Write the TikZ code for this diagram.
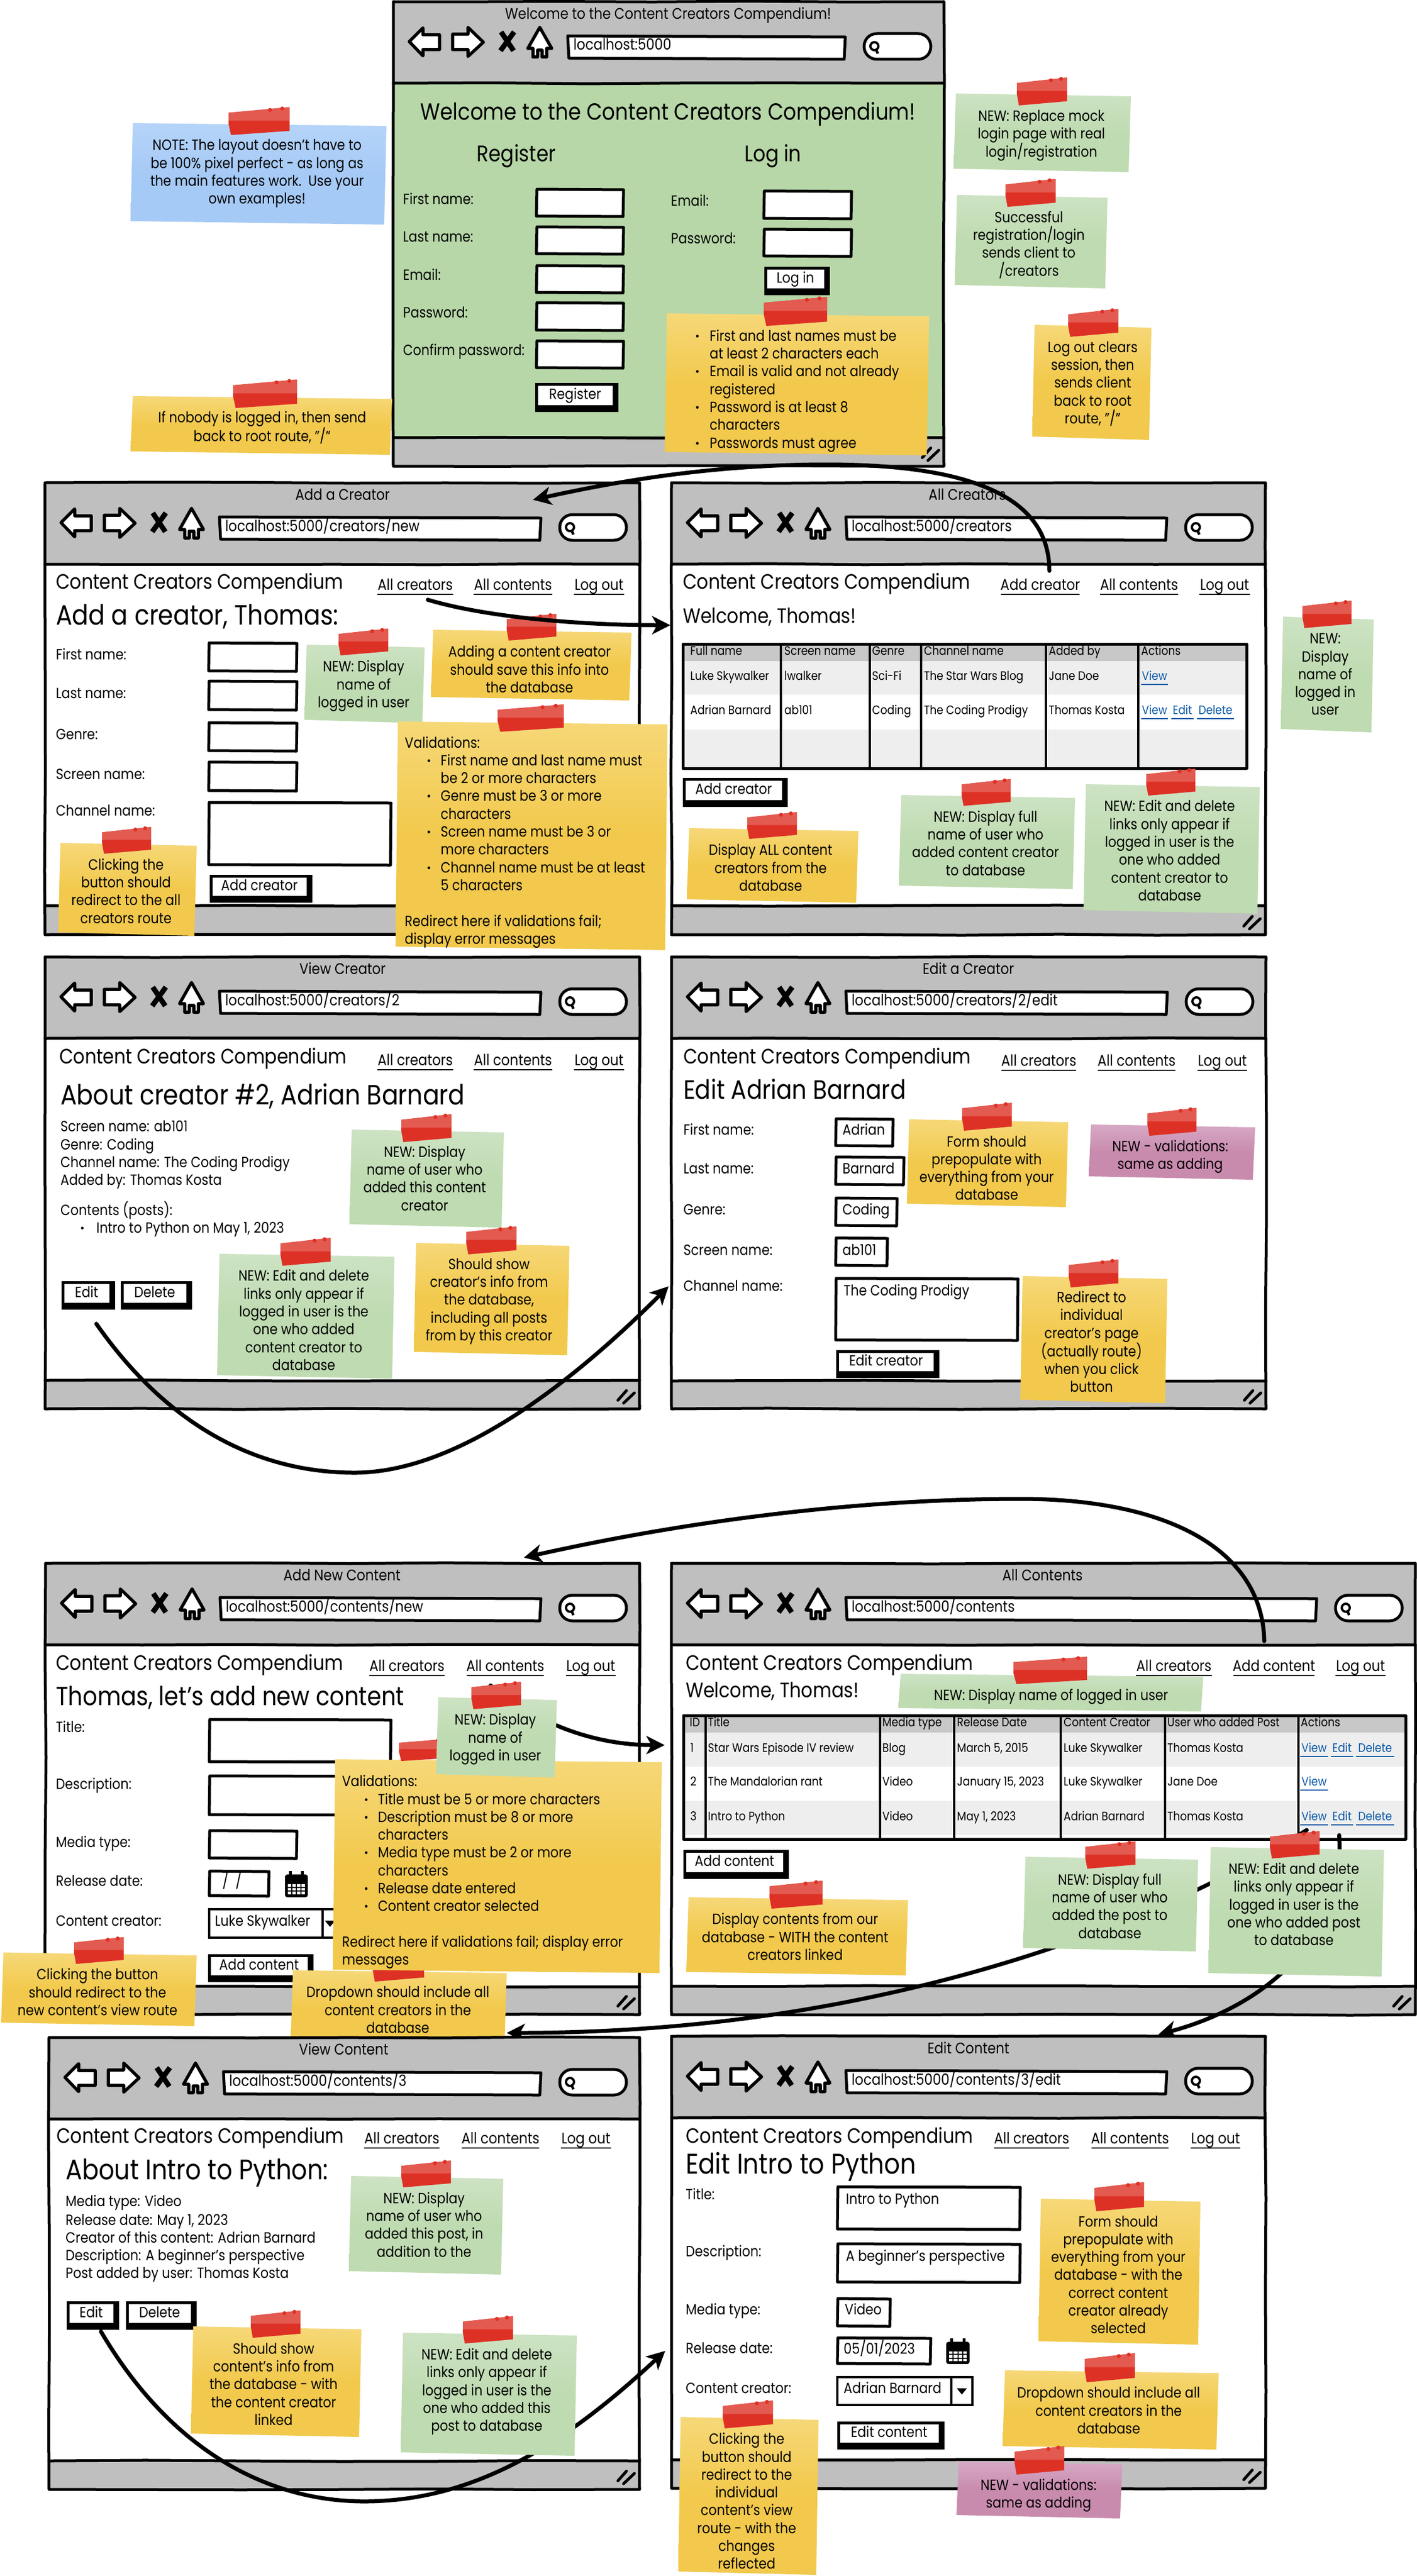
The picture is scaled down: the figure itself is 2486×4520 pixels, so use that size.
\documentclass[tikz,border=0pt]{standalone}
\usepackage{fontspec}
\setmainfont[FakeStretch=0.87]{Poppins}
\usetikzlibrary{arrows.meta,decorations.pathmorphing}
\definecolor{barcol}{HTML}{BFBFBF}
\definecolor{landgreen}{HTML}{B7D7A8}
\definecolor{hdrgray}{HTML}{C8C8C8}
\definecolor{rowgray}{HTML}{EEEEEE}
\definecolor{linkblue}{HTML}{0B5AA8}
\definecolor{yelT}{HTML}{F6D878}\definecolor{yelB}{HTML}{F2C94C}
\definecolor{grnT}{HTML}{CDE3C4}\definecolor{grnB}{HTML}{BFDBB1}
\definecolor{bluT}{HTML}{B5D4F9}\definecolor{bluB}{HTML}{A6CAF6}
\definecolor{pnkT}{HTML}{D6A9C6}\definecolor{pnkB}{HTML}{C98BAD}
\definecolor{tapeT}{HTML}{E35A50}\definecolor{tapeB}{HTML}{DE3126}
\newcommand\fz[1]{\fontsize{#1}{\dimexpr #1pt*6/5\relax}\selectfont}
\newcommand\nf{\fontsize{26}{31.3}\selectfont}
\newcount\lc
\def\bodycol{white}
\tikzset{
  rough/.style={decorate,decoration={random steps,segment length=170pt,amplitude=1.1pt}},
  frame/.style={draw=black,line width=5pt,line join=round,line cap=round},
  flow/.style={draw=black,line width=7pt,line cap=round,-{Stealth[length=32pt,width=32pt,inset=9pt]}},
  icon/.style={draw=black,fill=white,line width=5.5pt,line join=round},
  lbl/.style={inner sep=0pt,font=\fz{26},execute at begin node=\strut},
  ntxt/.style={inner sep=0pt,font=\nf,execute at begin node=\strut,execute at end node=\strut},
  yelnote/.style={top color=yelT,bottom color=yelB,middle color=yelB},
  grnnote/.style={top color=grnT,bottom color=grnB,middle color=grnB},
  blunote/.style={top color=bluT,bottom color=bluB,middle color=bluB},
  pnknote/.style={top color=pnkT,bottom color=pnkB,middle color=pnkB}
}
\newcommand\lab[4][26]{\global\advance\lc by1 \node[lbl,font=\fz{#1},anchor=west] (lab\the\lc) at (#2,#3) {#4};}
\newcommand\lnk[5]{\node[lbl,font=\fz{27}] (#1) at ({(#2+#3)/2},#4) {#5};
  \draw[line width=2.5pt] (#2,#4+14) -- (#3,#4+14);}
\newcommand\tlk[5]{\node[lbl,font=\fz{21.5},text=linkblue] (#1) at ({(#2+#3)/2},#4) {#5};
  \draw[line width=2.2pt,linkblue] (#2,#4+13) -- (#3,#4+13);}
\newcommand\fld[4]{\draw[frame,fill=white] ({#1+1},#2) -- ({#3},{#2+1}) -- ({#3-1},#4) -- (#1,{#4-1}) -- cycle;}
\newcommand\btn[6]{\fill[black] (#2,#3) rectangle (#4,#5);
  \fill[white] ({#2+5},{#3+5}) rectangle ({#4-10},{#5-12});
  \node[lbl] (#1) at ({(#2+#4)/2-3},{(#3+#5)/2-3}) {#6};}
\newcommand\drop[5]{\draw[line width=4.5pt,fill=white] (#1,#2) rectangle (#3,#4);
  \draw[line width=4.5pt] (#5,#2) -- (#5,#4);
  \fill[black] ({(#5+#3)/2-9},{(#2+#4)/2-5}) -- ({(#5+#3)/2+9},{(#2+#4)/2-5}) -- ({(#5+#3)/2},{(#2+#4)/2+6}) -- cycle;}
\newcommand\calicon[4]{\fill[black,rounded corners=4pt] (#1,{#2+6}) rectangle (#3,#4);
  \fill[black] ({#1+7},#2) rectangle ({#1+12},{#2+10}); \fill[black] ({#3-12},#2) rectangle ({#3-7},{#2+10});
  \foreach \cx in {0,1,2,3}{\foreach \cy in {0,1,2}{
    \fill[white] ({#1+4+\cx*(#3-#1-8)/4+1},{#2+22+\cy*(#4-#2-26)/3+1}) rectangle ++({(#3-#1-8)/4-2},{(#4-#2-26)/3-2});}}}
% browser window: id x0 y0 x1 y1 status titlecx title url
\newcommand\brow[9]{%
  \pgfmathsetmacro\bw{#4-#2}\pgfmathsetmacro\bh{#5-#3}%
  \fill[barcol] (#2,#3) rectangle (#4,#5);
  \fill[\bodycol] (#2,{#3+143}) rectangle (#4,#6);
  \draw[frame,rough] (#2,#3) rectangle (#4,#5);
  \draw[frame,rough] (#2,{#3+143}) -- (#4,{#3+143});
  \draw[frame,rough] (#2,#6) -- (#4,#6);
  \node[lbl,font=\fz{27}] (#1title) at (#7,{#3+24}) {#8};
  \begin{scope}[shift={(#2,#3)}]
    \draw[icon] (28,70) -- (52,46) -- (52,58) -- (81,58) -- (81,84) -- (52,84) -- (52,95) -- cycle;
    \draw[icon] (104,57) -- (131,57) -- (131,45) -- (158,71) -- (131,96) -- (131,84) -- (104,84) -- cycle;
    \draw[line width=9pt] (189,53) -- (211,86) (212,53) -- (188,86);
    \draw[icon] (257,45) -- (278,82) -- (269,82) -- (269,97) -- (261,97) -- (261,85) -- (253,85) -- (253,97) -- (245,97) -- (245,82) -- (236,82) -- cycle;
    \draw[frame,fill=white] (306,60) -- ({\bw-173},62) -- ({\bw-175},101) -- (308,99) -- cycle;
    \node[lbl,font=\fz{27},anchor=west] (#1url) at (316,78) {#9};
    \draw[frame,fill=white,rounded corners=22pt] ({\bw-140},56) rectangle ({\bw-23},101);
    \draw[line width=4pt] ({\bw-122},78) circle (7);
    \draw[line width=4.5pt] ({\bw-119},84) -- ({\bw-116},91);
    \draw[line width=5pt,line cap=round] ({\bw-38},{\bh-15}) -- ({\bw-23},{\bh-32}) ({\bw-28},{\bh-10}) -- ({\bw-9},{\bh-28});
  \end{scope}
}
\def\parsebox#1,#2,#3,#4;{\def\xa{#1}\def\ya{#2}\def\xb{#3}\def\yb{#4}}
\def\parsetape#1,#2,#3,#4;{\def\ta{#1}\def\tb{#2}\def\tc{#3}\def\td{#4}}
\def\parsecen#1,#2;{\def\ca{#1}\def\cb{#2}}
% sticky: name colour box tape centre text
\newcommand\stick[6]{%
  \parsebox#3;\parsetape#4;\parsecen#5;%
  \shade[#2note] ({\xa+4},\ya) -- (\xb,{\ya+5}) -- ({\xb-4},\yb) -- (\xa,{\yb-6}) -- cycle;
  \fill[tapeB] (\ta,{\tb+0.2*(\td-\tb)}) -- (\tc,\tb) -- (\tc,{\tb+0.85*(\td-\tb)}) -- ({\ta+0.04*(\tc-\ta)},\td) -- (\ta,{\tb+0.6*(\td-\tb)}) -- cycle;
  \fill[tapeT] (\ta,{\tb+0.2*(\td-\tb)}) -- (\tc,\tb) -- (\tc,{\tb+0.48*(\td-\tb)}) -- (\ta,{\tb+0.48*(\td-\tb)}) -- cycle;
  \fill[tapeB] ({\ta+0.68*(\tc-\ta)},{\tb+0.1*(\td-\tb)}) circle (3.5) ({\ta+0.88*(\tc-\ta)},{\tb+0.05*(\td-\tb)}) circle (3.5);
  \node[ntxt,align=center] (#1) at (\ca,\cb) {#6};
}
\newcommand\blt{\makebox[63pt][l]{\kern39pt\textbf{·}}}
\newcommand\cnt{\makebox[63pt]{}}
\newcommand\bltb{\makebox[25pt][l]{\textbf{·}}}
\newcommand\cntb{\makebox[25pt]{}}
\begin{document}
\begin{tikzpicture}[x=1pt,y=-1pt]
\pgfmathsetseed{11}
\useasboundingbox (0,0) rectangle (2486,4520);
\fill[white] (0,0) rectangle (2486,4520);
% ---------- A landing
{\def\bodycol{landgreen}
\brow{a}{690}{3}{1656}{818}{768}{1172}{Welcome to the Content Creators Compendium!}{localhost:5000}}
\node[lbl,font=\fz{41}] (aHead) at (1172,201) {Welcome to the Content Creators Compendium!};
\node[lbl,font=\fz{39.5}] (aReg) at (906,274) {Register};
\node[lbl,font=\fz{39.5}] (aLog) at (1356,274) {Log in};
\lab{707}{352}{First name:}\lab{707}{418}{Last name:}\lab{707}{485}{Email:}\lab{707}{551}{Password:}\lab{707}{617}{Confirm password:}
\fld{941}{332}{1094}{380}\fld{941}{398}{1094}{446}\fld{941}{466}{1094}{514}\fld{941}{531}{1094}{580}\fld{941}{598}{1094}{646}
\btn{aBtnReg}{939}{672}{1085}{723}{Register}
\lab{1177}{355}{Email:}\lab{1177}{421}{Password:}
\fld{1340}{335}{1494}{384}\fld{1340}{402}{1494}{450}
\btn{aBtnLog}{1341}{468}{1456}{518}{Log in}
% ---------- B add creator
\brow{b}{79}{847}{1122}{1640}{1589}{601}{Add a Creator}{localhost:5000/creators/new}
\node[lbl,font=\fz{36.5},anchor=west] (bBrand) at (98,1025) {Content Creators Compendium};
\lnk{bAllCreators}{662}{795}{1029}{All creators}\lnk{bAllContents}{831}{969}{1029}{All contents}\lnk{bLogout}{1007}{1095}{1029}{Log out}
\node[lbl,font=\fz{49},anchor=west] (bHead) at (98,1085) {Add a creator, Thomas:};
\lab{98}{1151}{First name:}\lab{98}{1219}{Last name:}\lab{98}{1291}{Genre:}\lab{98}{1361}{Screen name:}\lab{98}{1425}{Channel name:}
\fld{366}{1128}{521}{1178}\fld{366}{1195}{521}{1246}\fld{366}{1268}{521}{1318}\fld{366}{1337}{521}{1388}\fld{366}{1408}{686}{1518}
\btn{bBtn}{368}{1535}{548}{1584}{Add creator}
% ---------- C all creators
\brow{c}{1178}{847}{2220}{1640}{1589}{1697}{All Creators}{localhost:5000/creators}
\node[lbl,font=\fz{36.5},anchor=west] (cBrand) at (1198,1025) {Content Creators Compendium};
\lnk{cAddCreator}{1756}{1894}{1029}{Add creator}\lnk{cAllContents}{1930}{2067}{1029}{All contents}\lnk{cLogout}{2104}{2193}{1029}{Log out}
\node[lbl,font=\fz{36.5},anchor=west] (cWelcome) at (1198,1085) {Welcome, Thomas!};
\fill[white] (1198,1130) rectangle (2187,1348);
\fill[hdrgray] (1198,1130) rectangle (2187,1160);
\fill[rowgray] (1198,1160) rectangle (2187,1219);
\fill[rowgray] (1198,1280) rectangle (2187,1345);
\draw[frame] (1198,1130) rectangle (2187,1348);
\foreach \xc in {1370,1526,1616,1835,1997}{\draw[line width=4pt] (\xc,1130) -- (\xc,1350);}
\lab[21.5]{1211}{1144}{Full name}\lab[21.5]{1376}{1144}{Screen name}\lab[21.5]{1530}{1144}{Genre}\lab[21.5]{1621}{1144}{Channel name}\lab[21.5]{1840}{1144}{Added by}\lab[21.5]{2002}{1144}{Actions}
\lab[21.5]{1211}{1188}{Luke Skywalker}\lab[21.5]{1376}{1188}{lwalker}\lab[21.5]{1530}{1188}{Sci-Fi}\lab[21.5]{1621}{1188}{The Star Wars Blog}\lab[21.5]{1840}{1188}{Jane Doe}
\tlk{cView1}{2002}{2049}{1188}{View}
\lab[21.5]{1211}{1248}{Adrian Barnard}\lab[21.5]{1376}{1248}{ab101}\lab[21.5]{1530}{1248}{Coding}\lab[21.5]{1621}{1248}{The Coding Prodigy}\lab[21.5]{1840}{1248}{Thomas Kosta}
\tlk{cView2}{2002}{2049}{1248}{View}\tlk{cEdit2}{2055}{2094}{1248}{Edit}\tlk{cDelete2}{2100}{2165}{1248}{Delete}
\btn{cBtn}{1198}{1365}{1382}{1416}{Add creator}
% ---------- D view creator
\brow{d}{79}{1679}{1122}{2472}{2422}{601}{View Creator}{localhost:5000/creators/2}
\node[lbl,font=\fz{36.5},anchor=west] (dBrand) at (104,1858) {Content Creators Compendium};
\lnk{dAllCreators}{662}{795}{1863}{All creators}\lnk{dAllContents}{831}{969}{1863}{All contents}\lnk{dLogout}{1007}{1095}{1863}{Log out}
\node[lbl,font=\fz{49},anchor=west] (dHead) at (106,1927) {About creator \#2, Adrian Barnard};
\lab{106}{1979}{Screen name: ab101}\lab{106}{2011}{Genre: Coding}\lab{106}{2042}{Channel name: The Coding Prodigy}\lab{106}{2073}{Added by: Thomas Kosta}
\lab{106}{2125}{Contents (posts):}\lab{141}{2157}{\textbf{·}}\lab{169}{2157}{Intro to Python on May 1, 2023}
\btn{dEdit}{108}{2248}{202}{2298}{Edit}\btn{dDelete}{212}{2248}{337}{2298}{Delete}
% ---------- E edit creator
\brow{e}{1178}{1679}{2221}{2472}{2423}{1699}{Edit a Creator}{localhost:5000/creators/2/edit}
\node[lbl,font=\fz{36.5},anchor=west] (eBrand) at (1199,1858) {Content Creators Compendium};
\lnk{eAllCreators}{1757}{1888}{1864}{All creators}\lnk{eAllContents}{1926}{2062}{1864}{All contents}\lnk{eLogout}{2101}{2188}{1864}{Log out}
\node[lbl,font=\fz{46.5},anchor=west] (eHead) at (1199,1917) {Edit Adrian Barnard};
\lab{1199}{1985}{First name:}\lab{1199}{2053}{Last name:}\lab{1199}{2125}{Genre:}\lab{1199}{2196}{Screen name:}\lab{1199}{2259}{Channel name:}
\fld{1466}{1963}{1567}{2011}\fld{1466}{2030}{1586}{2079}\fld{1466}{2102}{1574}{2151}\fld{1466}{2172}{1557}{2221}\fld{1466}{2243}{1786}{2352}
\lab{1478}{1985}{Adrian}\lab{1478}{2053}{Barnard}\lab{1478}{2125}{Coding}\lab{1478}{2196}{ab101}\lab{1480}{2267}{The Coding Prodigy}
\btn{eBtn}{1467}{2369}{1648}{2418}{Edit creator}
% ---------- F add content
\brow{f}{80}{2743}{1122}{3535}{3486}{600}{Add New Content}{localhost:5000/contents/new}
\node[lbl,font=\fz{36.5},anchor=west] (fBrand) at (98,2922) {Content Creators Compendium};
\lnk{fAllCreators}{648}{780}{2926}{All creators}\lnk{fAllContents}{819}{954}{2926}{All contents}\lnk{fLogout}{993}{1080}{2926}{Log out}
\node[lbl,font=\fz{46},anchor=west] (fHead) at (98,2981) {Thomas, let's add new content};
\lab{98}{3033}{Title:}\lab{98}{3133}{Description:}\lab{98}{3235}{Media type:}\lab{98}{3303}{Release date:}\lab{98}{3373}{Content creator:}
\fld{367}{3017}{686}{3092}\fld{367}{3116}{686}{3185}\fld{367}{3212}{521}{3261}\fld{367}{3283}{472}{3327}
\lab{390}{3303}{/\ \ /}
\calicon{500}{3283}{540}{3329}
\drop{367}{3350}{592}{3400}{566}
\lab{377}{3373}{Luke Skywalker}
\btn{fBtn}{365}{3429}{550}{3478}{Add content}
% ---------- G all contents
\brow{g}{1178}{2743}{2483}{3535}{3485}{1829}{All Contents}{localhost:5000/contents}
\node[lbl,font=\fz{36.5},anchor=west] (gBrand) at (1203,2922) {Content Creators Compendium};
\lnk{gAllCreators}{1993}{2126}{2926}{All creators}\lnk{gAddContent}{2164}{2306}{2926}{Add content}\lnk{gLogout}{2343}{2431}{2926}{Log out}
\node[lbl,font=\fz{36.5},anchor=west] (gWelcome) at (1203,2970) {Welcome, Thomas!};
\fill[white] (1199,3010) rectangle (2466,3227);
\fill[hdrgray] (1199,3010) rectangle (2466,3040);
\fill[rowgray] (1199,3040) rectangle (2466,3100);
\fill[rowgray] (1199,3160) rectangle (2466,3220);
\draw[frame] (1199,3010) rectangle (2466,3227);
\foreach \xc in {1238,1544,1674,1861,2044,2278}{\draw[line width=4pt] (\xc,3010) -- (\xc,3229);}
\lab[21.5]{1210}{3024}{ID}\lab[21.5]{1242}{3024}{Title}\lab[21.5]{1548}{3024}{Media type}\lab[21.5]{1679}{3024}{Release Date}\lab[21.5]{1866}{3024}{Content Creator}\lab[21.5]{2048}{3024}{User who added Post}\lab[21.5]{2282}{3024}{Actions}
\lab[21.5]{1211}{3069}{1}\lab[21.5]{1242}{3069}{Star Wars Episode IV review}\lab[21.5]{1548}{3069}{Blog}\lab[21.5]{1679}{3069}{March 5, 2015}\lab[21.5]{1866}{3069}{Luke Skywalker}\lab[21.5]{2048}{3069}{Thomas Kosta}
\tlk{gView1}{2281}{2330}{3069}{View}\tlk{gEdit1}{2335}{2374}{3069}{Edit}\tlk{gDelete1}{2379}{2446}{3069}{Delete}
\lab[21.5]{1211}{3128}{2}\lab[21.5]{1242}{3128}{The Mandalorian rant}\lab[21.5]{1548}{3128}{Video}\lab[21.5]{1679}{3128}{January 15, 2023}\lab[21.5]{1866}{3128}{Luke Skywalker}\lab[21.5]{2048}{3128}{Jane Doe}
\tlk{gView2}{2281}{2330}{3128}{View}
\lab[21.5]{1211}{3189}{3}\lab[21.5]{1242}{3189}{Intro to Python}\lab[21.5]{1548}{3189}{Video}\lab[21.5]{1679}{3189}{May 1, 2023}\lab[21.5]{1866}{3189}{Adrian Barnard}\lab[21.5]{2048}{3189}{Thomas Kosta}
\tlk{gView3}{2281}{2330}{3189}{View}\tlk{gEdit3}{2335}{2374}{3189}{Edit}\tlk{gDelete3}{2379}{2446}{3189}{Delete}
\btn{gBtn}{1199}{3246}{1384}{3297}{Add content}
% ---------- F/G connectors and notes
\coordinate (gTargetF) at (1166,3062);
\draw[flow] ([xshift=-26pt,yshift=-15pt]fAllContents.south) .. controls (950,3030) and (1050,3062) .. (gTargetF);
\stick{nDropF}{yel}{510,3457,889,3590}{654,3428,744,3477}{698,3531}{Dropdown should include all\\content creators in the\\database}
\stick{nValF}{yel}{584,3087,1161,3462}{700,3050,800,3090}{600,3286}{}
\node[ntxt,align=left,anchor=west] (nValFtext) at (600,3286) {Validations:\\\blt Title must be 5 or more characters\\\blt Description must be 8 or more\\\cnt characters\\\blt Media type must be 2 or more\\\cnt characters\\\blt Release date entered\\\blt Content creator selected\\ \\Redirect here if validations fail; display error\\messages};
\stick{nGreenF}{grn}{765,2978,977,3119}{827,2951,914,2999}{869,3053}{NEW: Display\\name of\\logged in user}
\stick{nClickF}{yel}{2,3426,345,3555}{130,3399,217,3446}{171,3500}{Clicking the button\\should redirect to the\\new content's view route}
\coordinate (fTopTarget) at (919,2733);
\draw[flow] ([xshift=-17pt,yshift=30pt]gAddContent.north) .. controls (2215,2720) and (2050,2630) .. (1790,2630) .. controls (1500,2630) and (1200,2670) .. (fTopTarget);
\coordinate (hTopTarget) at (889,3567);
\draw[flow] ([xshift=-13pt,yshift=-9pt]gView3.south) .. controls (2120,3320) and (1850,3440) .. (1500,3510) .. controls (1300,3550) and (1100,3567) .. (hTopTarget);
\coordinate (iTopTarget) at (2032,3570);
\draw[flow] ([xshift=-5pt,yshift=-18pt]gEdit3.south) .. controls (2360,3400) and (2220,3520) .. (iTopTarget);
\stick{nGreenG}{grn}{1576,2937,2111,3003}{1778,2907,1907,2955}{1844,2977}{NEW: Display name of logged in user}
\stick{nYelG}{yel}{1204,3329,1593,3466}{1350,3300,1443,3349}{1395,3403}{Display contents from our\\database - WITH the content\\creators linked}
\stick{nFullG}{grn}{1795,3258,2102,3424}{1904,3231,1992,3279}{1947,3349}{NEW: Display full\\name of user who\\added the post to\\database}
\stick{nEditG}{grn}{2120,3241,2428,3468}{2228,3213,2315,3261}{2270,3346}{NEW: Edit and delete\\links only appear if\\logged in user is the\\one who added post\\to database}
% ---------- H view content
\brow{h}{86}{3575}{1122}{4368}{4318}{603}{View Content}{localhost:5000/contents/3}
\node[lbl,font=\fz{36.5},anchor=west] (hBrand) at (99,3752) {Content Creators Compendium};
\lnk{hAllCreators}{639}{771}{3755}{All creators}\lnk{hAllContents}{810}{946}{3755}{All contents}\lnk{hLogout}{984}{1072}{3755}{Log out}
\node[lbl,font=\fz{49.5},anchor=west] (hHead) at (115,3813) {About Intro to Python:};
\lab{115}{3865}{Media type: Video}\lab{115}{3898}{Release date: May 1, 2023}\lab{115}{3929}{Creator of this content: Adrian Barnard}\lab{115}{3960}{Description: A beginner's perspective}\lab{115}{3991}{Post added by user: Thomas Kosta}
\btn{hEdit}{117}{4038}{209}{4088}{Edit}\btn{hDelete}{221}{4038}{345}{4088}{Delete}
% ---------- I edit content
\brow{i}{1178}{3573}{2220}{4366}{4316}{1699}{Edit Content}{localhost:5000/contents/3/edit}
\node[lbl,font=\fz{36.5},anchor=west] (iBrand) at (1203,3752) {Content Creators Compendium};
\lnk{iAllCreators}{1744}{1876}{3755}{All creators}\lnk{iAllContents}{1915}{2050}{3755}{All contents}\lnk{iLogout}{2089}{2176}{3755}{Log out}
\node[lbl,font=\fz{50},anchor=west] (iHead) at (1203,3802) {Edit Intro to Python};
\lab{1203}{3853}{Title:}\lab{1203}{3953}{Description:}\lab{1203}{4055}{Media type:}\lab{1203}{4123}{Release date:}\lab{1203}{4193}{Content creator:}
\fld{1469}{3837}{1790}{3912}\fld{1469}{3937}{1790}{4005}\fld{1469}{4033}{1562}{4082}\fld{1469}{4102}{1633}{4148}
\lab{1484}{3861}{Intro to Python}\lab{1484}{3961}{A beginner's perspective}\lab{1482}{4055}{Video}\lab{1480}{4123}{05/01/2023}
\calicon{1660}{4103}{1701}{4148}
\drop{1469}{4171}{1706}{4220}{1669}
\lab{1480}{4193}{Adrian Barnard}
\btn{iBtn}{1469}{4249}{1657}{4298}{Edit content}
% ---------- connectors behind notes
\coordinate (eTarget) at (1173,2257);
\draw[flow] ([xshift=17pt,yshift=-37pt]dEdit.south) .. controls (300,2510) and (460,2584) .. (622,2584) .. controls (800,2584) and (1000,2430) .. (eTarget);
\coordinate (iTarget) at (1167,4125);
\draw[flow] ([xshift=17pt,yshift=-15pt]hEdit.south) .. controls (300,4300) and (470,4389) .. (639,4389) .. controls (840,4389) and (1000,4280) .. (iTarget);
% ---------- A notes
\stick{nBlue}{blu}{229,216,678,394}{401,188,508,237}{451,306}{NOTE: The layout doesn't have to\\be 100\% pixel perfect - as long as\\the main features work.\ \ Use your\\own examples!}
\stick{nNobody}{yel}{229,695,688,798}{409,666,521,716}{460,753}{If nobody is logged in, then send\\back to root route, "/"}
\stick{nValA}{yel}{1166,550,1630,799}{1340,521,1451,572}{1220,687}{}
\node[ntxt,align=left,anchor=west] (nValAtext) at (1220,687) {\bltb First and last names must be\\\cntb at least 2 characters each\\\bltb Email is valid and not already\\\cntb registered\\\bltb Password is at least 8\\\cntb characters\\\bltb Passwords must agree};
\stick{nReplace}{grn}{1673,164,1984,302}{1784,136,1872,185}{1827,239}{NEW: Replace mock\\login page with real\\login/registration}
\stick{nSuccess}{grn}{1675,342,1943,506}{1764,314,1852,363}{1805,432}{Successful\\registration/login\\sends client to\\/creators}
\stick{nLogout}{yel}{1811,570,2020,772}{1874,542,1962,591}{1917,676}{Log out clears\\session, then\\sends client\\back to root\\route, "/"}
% ---------- B notes
\stick{nGreenB}{grn}{534,1131,745,1269}{594,1103,681,1150}{638,1205}{NEW: Display\\name of\\logged in user}
\stick{nAdding}{yel}{756,1105,1108,1229}{889,1077,976,1124}{929,1179}{Adding a content creator\\should save this info into\\the database}
\stick{nValB}{yel}{694,1266,1171,1667}{873,1236,989,1284}{710,1479}{}
\node[ntxt,align=left,anchor=west] (nValBtext) at (710,1479) {Validations:\\\blt First name and last name must\\\cnt be 2 or more characters\\\blt Genre must be 3 or more\\\cnt characters\\\blt Screen name must be 3 or\\\cnt more characters\\\blt Channel name must be at least\\\cnt 5 characters\\ \\Redirect here if validations fail;\\display error messages};
\stick{nClickB}{yel}{102,1479,345,1642}{179,1451,265,1498}{221,1568}{Clicking the\\button should\\redirect to the all\\creators route}
% ---------- C notes
\stick{nAllC}{yel}{1205,1453,1506,1584}{1311,1425,1398,1472}{1352,1527}{Display ALL content\\creators from the\\database}
\stick{nFullC}{grn}{1577,1395,1886,1560}{1687,1367,1773,1414}{1729,1484}{NEW: Display full\\name of user who\\added content creator\\to database}
\stick{nEditC}{grn}{1901,1376,2210,1603}{2011,1349,2097,1396}{2052,1497}{NEW: Edit and delete\\links only appear if\\logged in user is the\\one who added\\content creator to\\database}
\stick{nRightC}{grn}{2247,1082,2410,1285}{2285,1054,2371,1102}{2325,1188}{NEW:\\Display\\name of\\logged in\\user}
% ---------- D notes
\stick{nGreenD}{grn}{613,1982,884,2154}{704,1955,792,2004}{745,2072}{NEW: Display\\name of user who\\added this content\\creator}
\stick{nEditD}{grn}{381,2200,692,2419}{492,2172,580,2221}{533,2321}{NEW: Edit and delete\\links only appear if\\logged in user is the\\one who added\\content creator to\\database}
\stick{nShowD}{yel}{726,2181,999,2378}{818,2152,906,2201}{858,2285}{Should show\\creator's info from\\the database,\\including all posts\\from by this creator}
% ---------- E notes
\stick{nFormE}{yel}{1591,1964,1874,2118}{1688,1935,1775,1984}{1731,2054}{Form should\\prepopulate with\\everything from your\\database}
\stick{nPinkE}{pnk}{1910,1973,2202,2070}{2013,1944,2099,1993}{2053,2031}{NEW - validations:\\same as adding}
\stick{nRedirE}{yel}{1790,2239,2048,2462}{1875,2210,1962,2259}{1915,2359}{Redirect to\\individual\\creator's page\\(actually route)\\when you click\\button}
% ---------- H notes
\stick{nGreenH}{grn}{612,3818,883,3991}{704,3791,791,3838}{744,3908}{NEW: Display\\name of user who\\added this post, in\\addition to the}
\stick{nShowH}{yel}{335,4082,634,4276}{440,4054,527,4102}{480,4188}{Should show\\content's info from\\the database - with\\the content creator\\linked}
\stick{nEditH}{grn}{703,4093,1012,4309}{812,4064,900,4112}{854,4198}{NEW: Edit and delete\\links only appear if\\logged in user is the\\one who added this\\post to database}
% ---------- I notes
\stick{nFormI}{yel}{1822,3858,2106,4114}{1920,3829,2007,3880}{1962,3996}{Form should\\prepopulate with\\everything from your\\database - with the\\correct content\\creator already\\selected}
\stick{nDropI}{yel}{1759,4159,2138,4298}{1903,4129,1991,4180}{1945,4234}{Dropdown should include all\\content creators in the\\database}
\stick{nPinkI}{pnk}{1678,4319,1969,4419}{1780,4292,1867,4342}{1822,4380}{NEW - validations:\\same as adding}
\stick{nClickI}{yel}{1190,4241,1436,4518}{1268,4212,1356,4261}{1310,4393}{Clicking the\\button should\\redirect to the\\individual\\content's view\\route - with the\\changes\\reflected}
% ---------- connectors on top
\coordinate (cTarget) at (1176,1097);
\draw[flow] ([xshift=22pt,yshift=-7pt]bAllCreators.south) .. controls (860,1085) and (1030,1097) .. (cTarget);
\coordinate (bTarget) at (935,877);
\draw[flow] ([xshift=16pt,yshift=11pt]cAddCreator.north) .. controls (1841,880) and (1720,815) .. (1450,815) .. controls (1250,815) and (1080,845) .. (bTarget);
\end{tikzpicture}
\end{document}
